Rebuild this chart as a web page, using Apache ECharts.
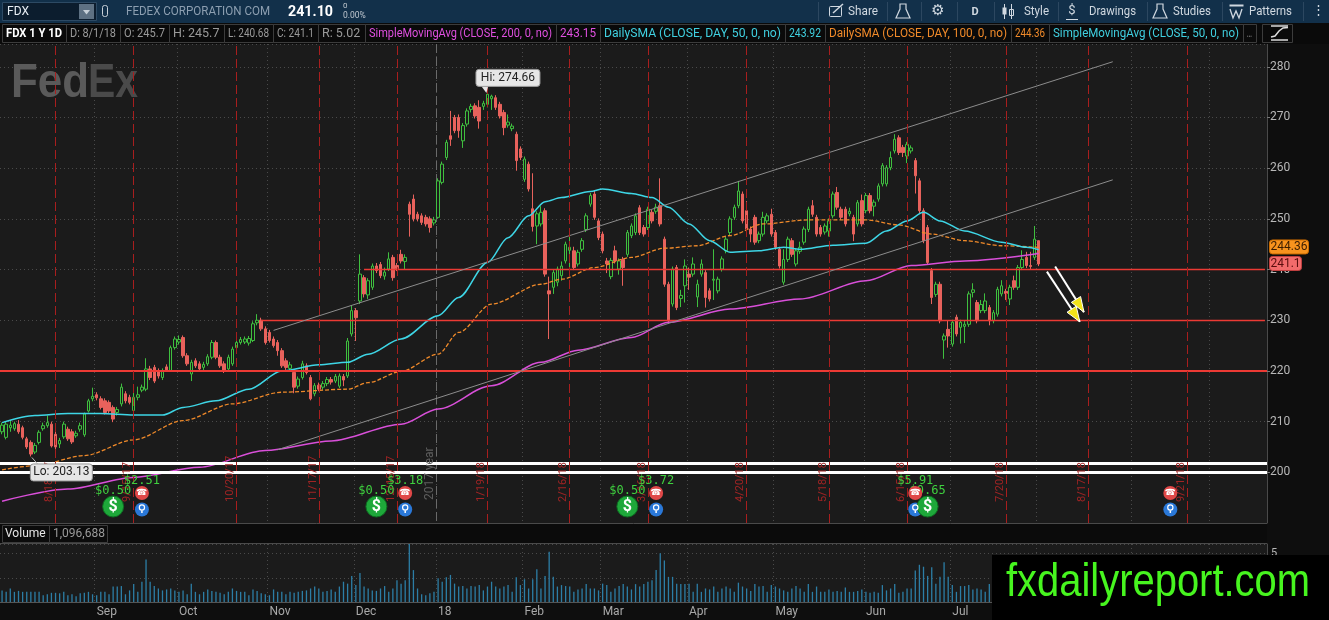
<!DOCTYPE html>
<html>
<head>
<meta charset="utf-8">
<title>FDX 1 Y 1D</title>
<script src="https://cdn.jsdelivr.net/npm/echarts@6/dist/echarts.min.js"></script>
<style>
html, body { margin: 0; padding: 0; background: #0e0e0e; }
#main { width: 1329px; height: 620px; }
</style>
</head>
<body>
<div id="main"></div>
<script>
// trading calendar
var holidays = ['2017-09-04', '2017-11-23', '2017-12-25', '2018-01-01', '2018-01-15',
    '2018-02-19', '2018-03-30', '2018-05-28', '2018-07-04', '2018-09-03'];
var dayCount = 308; // 253 bars + blank days up to the right edge
var monthNames = ['18', 'Feb', 'Mar', 'Apr', 'May', 'Jun', 'Jul', 'Aug', 'Sep', 'Oct', 'Nov', 'Dec'];

// daily candles [open, close, low, high], 8/1/17 .. 8/1/18
var ohlc = [
[208.0,209.3,207.5,209.8],[206.9,209.5,206.5,210.0],[208.8,209.3,208.0,210.3],[208.6,209.6,208.2,210.0],[209.5,208.0,207.6,210.3],
[208.8,206.9,206.5,209.2],[206.6,205.0,204.6,207.0],[205.9,203.6,203.13,206.3],[204.0,205.3,203.6,205.8],[205.9,207.9,205.5,208.3],
[208.6,209.2,208.2,209.8],[209.2,209.8,208.8,211.2],[209.5,205.2,204.9,210.0],[207.5,205.0,204.4,208.0],[205.6,206.3,204.8,206.8],
[207.0,209.5,206.6,210.0],[208.5,206.6,206.2,209.0],[208.0,206.0,205.6,208.5],[207.2,207.7,206.8,208.2],[208.5,209.2,208.0,209.8],
[207.4,211.5,207.0,211.8],[212.1,214.1,211.8,214.5],[214.5,215.0,214.0,216.7],[215.3,214.7,214.2,215.8],[214.5,212.8,212.4,215.0],
[214.1,211.8,211.4,214.6],[213.8,212.1,211.7,214.2],[212.8,210.5,209.9,213.2],[211.8,212.4,211.2,212.9],[213.5,216.8,213.0,217.5],
[215.5,214.1,213.6,216.0],[214.8,213.8,213.4,215.3],[212.2,214.8,211.5,216.5],[214.8,215.3,214.2,216.9],[216.2,216.8,215.8,217.3],
[216.4,220.4,216.0,222.5],[220.4,218.7,218.2,221.0],[220.7,218.0,217.6,221.2],[220.0,219.0,218.5,220.5],[218.7,220.0,218.2,220.5],
[220.8,220.2,219.8,221.3],[220.1,224.6,219.8,225.0],[224.6,226.3,224.2,226.8],[225.7,226.2,225.2,227.0],[226.6,223.0,222.6,227.0],
[223.0,221.4,221.0,223.5],[219.4,221.7,218.0,222.2],[222.0,221.0,220.6,222.5],[221.4,220.4,220.0,221.9],[220.7,221.3,220.2,221.8],
[221.4,222.8,221.0,223.3],[222.7,225.6,222.3,226.1],[225.6,222.7,222.3,226.0],[222.7,221.0,220.6,223.2],[221.4,220.0,219.6,221.9],
[220.4,222.7,220.0,223.2],[221.4,224.3,221.0,224.8],[224.6,225.6,224.2,226.1],[225.6,226.2,225.2,226.7],[225.7,226.3,225.3,226.8],
[225.5,226.4,225.0,226.9],[226.0,229.3,225.7,229.8],[229.5,230.0,229.0,231.2],[230.0,228.3,227.9,230.5],[228.3,225.6,225.2,228.8],
[227.6,226.0,225.6,228.1],[226.3,225.0,224.6,226.8],[225.6,224.0,223.0,226.1],[224.0,221.0,220.6,224.5],[222.0,220.7,220.2,222.5],
[220.5,221.2,220.0,221.8],[219.7,216.8,215.6,220.2],[217.0,218.4,216.5,218.9],[218.7,221.4,218.3,222.0],[221.0,219.7,219.3,221.5],
[218.7,214.5,214.2,219.2],[215.5,217.1,215.0,217.6],[217.2,216.4,216.0,217.7],[216.8,217.5,216.3,218.0],[217.5,218.3,217.0,218.8],
[218.3,217.8,217.3,218.8],[218.0,218.9,217.6,219.4],[217.0,219.0,216.6,219.5],[218.9,218.2,217.0,219.4],[219.0,225.9,218.6,226.5],
[227.3,231.9,226.8,233.0],[231.9,230.5,225.9,232.4],[233.8,239.1,233.2,243.0],[238.4,235.2,234.5,238.9],[235.0,237.8,234.2,238.3],
[236.5,240.7,236.0,241.2],[240.7,239.8,239.3,241.3],[241.0,238.8,238.3,241.5],[238.7,239.5,238.0,240.4],[240.1,242.1,239.7,243.4],
[242.4,238.4,237.8,242.9],[240.8,240.2,239.7,241.3],[243.0,241.7,241.2,243.9],[241.6,242.4,240.0,243.0],[252.9,250.9,246.5,253.4],
[253.9,250.0,249.5,254.8],[250.9,250.0,249.5,251.4],[250.6,249.3,248.8,251.1],[250.3,249.0,248.5,250.8],[250.0,248.3,247.3,250.5],
[249.2,249.8,248.7,250.4],[250.3,257.5,250.0,258.0],[257.2,260.8,256.8,261.3],[262.1,265.1,261.6,265.6],[266.4,265.7,264.4,271.3],
[270.0,267.4,266.9,270.5],[270.0,267.4,266.0,270.6],[265.4,268.4,264.0,268.9],[268.7,271.3,268.2,271.8],[271.6,272.2,271.0,272.7],
[272.3,270.3,269.8,272.8],[272.0,269.3,267.8,273.4],[272.2,272.8,271.5,273.3],[272.6,274.6,272.0,274.66],[273.7,274.2,271.5,274.5],
[273.9,272.0,271.5,274.4],[272.6,270.3,269.8,273.1],[271.0,268.0,266.5,271.5],[268.5,269.1,268.0,270.6],[267.8,268.3,267.3,268.8],
[266.7,261.5,259.5,267.2],[263.8,262.1,261.6,264.3],[257.8,261.8,257.3,262.3],[260.8,255.9,255.4,261.3],[252.0,248.5,247.5,259.0],
[248.6,251.0,245.0,251.5],[249.0,251.3,248.5,252.5],[251.6,239.1,238.6,252.1],[235.8,235.2,226.3,238.6],[236.5,239.4,235.2,240.0],
[237.5,240.1,236.7,240.6],[238.8,240.7,237.8,241.6],[241.7,245.0,241.2,245.5],[243.8,244.4,240.5,247.5],[243.7,240.4,239.9,244.5],
[241.1,243.4,240.6,243.9],[244.0,245.7,243.5,246.2],[247.9,250.6,247.4,251.1],[252.9,254.6,252.4,255.1],[254.9,250.3,249.8,255.5],
[249.6,246.3,245.8,250.1],[247.0,243.7,243.2,247.5],[241.7,241.1,239.3,242.3],[238.6,241.8,238.1,242.3],[243.7,241.7,241.2,244.7],
[240.1,241.7,239.0,242.2],[242.0,240.4,236.8,242.5],[243.0,247.3,242.5,247.8],[246.7,248.6,246.2,249.1],[247.3,250.6,246.8,251.1],
[252.2,247.3,246.8,252.7],[248.3,247.0,246.5,248.8],[248.3,251.9,247.8,252.4],[251.3,249.6,249.1,251.8],[251.5,252.3,251.0,253.0],
[252.6,249.0,248.5,258.0],[246.0,237.1,236.6,246.5],[237.1,229.9,229.3,237.6],[233.2,240.1,232.7,240.6],[240.4,232.5,232.0,240.9],
[234.3,234.9,232.6,236.0],[236.8,240.7,233.5,242.0],[239.1,238.5,236.0,240.4],[239.1,241.1,238.6,242.4],[234.6,237.1,232.6,238.0],
[239.1,241.1,238.6,242.0],[239.4,234.5,232.5,239.9],[235.8,234.2,233.7,236.3],[237.9,238.1,234.0,244.0],[235.8,238.1,235.3,238.6],
[240.1,242.1,239.6,242.6],[243.7,246.0,243.2,246.5],[247.3,250.0,246.8,250.5],[250.3,252.3,249.8,252.8],[252.6,255.5,252.1,257.5],
[254.9,249.6,249.1,255.4],[251.6,248.0,247.5,253.5],[248.0,247.0,245.4,248.5],[250.3,245.4,244.9,250.8],[245.7,247.0,245.2,247.5],
[247.0,250.3,246.5,251.4],[249.6,250.6,249.1,251.1],[250.9,247.0,246.5,252.0],[247.3,244.4,243.9,247.8],[244.0,240.7,240.2,244.5],
[237.5,242.0,237.0,244.0],[242.0,246.0,241.5,246.5],[245.7,243.0,242.5,246.2],[241.1,243.7,240.6,244.2],[243.6,244.4,243.1,245.5],
[245.4,248.0,244.9,248.5],[247.9,251.9,247.4,252.4],[252.6,250.9,250.4,253.7],[250.3,247.0,246.5,250.8],[248.3,247.0,246.5,248.8],
[247.4,248.6,246.9,249.1],[247.6,249.6,246.5,250.1],[250.6,254.9,250.1,255.4],[255.2,252.3,251.8,256.3],[251.9,250.3,249.8,252.4],
[251.9,249.0,248.5,252.4],[251.0,251.5,250.5,252.2],[250.3,247.0,245.6,250.8],[249.0,253.2,248.5,253.7],[253.6,249.0,248.5,254.8],
[251.6,254.6,251.1,255.1],[254.6,251.6,251.1,255.1],[252.5,253.3,250.5,253.8],[253.9,256.5,253.4,257.0],[256.9,260.5,256.4,261.0],
[256.9,260.1,256.4,260.6],[260.1,262.1,259.6,263.3],[263.4,265.7,262.9,266.7],[266.0,263.1,262.6,266.5],[264.1,263.1,262.2,264.6],
[262.4,264.7,261.0,265.2],[263.4,264.0,262.9,264.5],[261.5,258.5,255.0,262.0],[257.5,251.6,251.1,258.0],[251.6,245.7,245.2,252.1],
[248.3,241.4,240.9,248.8],[239.8,234.5,233.2,240.3],[235.1,237.1,234.6,237.6],[237.1,229.9,229.4,237.6],[226.1,226.9,222.4,227.4],
[228.2,226.9,224.6,230.0],[225.3,229.6,224.8,230.1],[230.6,227.3,226.8,231.1],[228.6,229.6,225.4,230.1],[228.8,229.2,225.5,230.0],
[229.2,235.2,228.7,235.7],[235.5,236.0,234.5,237.3],[233.5,229.9,229.4,234.0],[231.9,233.1,231.4,234.0],[231.9,233.8,231.4,235.3],
[232.5,229.9,229.0,233.0],[229.9,231.5,229.4,232.0],[231.2,236.1,230.7,236.6],[235.2,236.8,234.7,237.9],[235.7,235.3,234.0,236.2],
[234.2,236.5,233.0,237.0],[237.8,236.5,236.0,238.8],[236.5,240.4,236.0,240.9],[240.4,242.0,239.9,243.8],[242.4,240.8,240.3,243.5],
[240.8,240.6,240.1,243.5],[242.4,246.0,241.9,248.6],[245.7,241.1,240.68,245.7]
];

// volume, millions of shares
var volume = [
1.2,1.05,1.4,1.05,1.15,1.05,1.05,1.05,1.05,1.05,
0.7,0.8,0.95,0.95,0.9,1.05,0.7,0.8,0.6,0.9,
0.95,1.05,0.8,0.7,1.05,1.05,0.8,1.6,1.6,1.65,
0.8,1.2,1.85,1.05,2.1,4.4,2.1,1.65,1.4,1.2,
1.3,1.4,1.2,1.05,1.2,0.8,1.9,1.05,0.8,1.05,
1.3,1.15,1.05,0.95,0.8,1.05,1.4,1.15,1.05,1.05,
0.7,1.3,1.15,0.9,0.8,0.7,1.3,1.05,1.05,0.8,
1.05,0.95,1.05,1.15,1.2,1.4,1.6,1.4,1.05,1.15,
1.3,1.05,1.6,2.1,1.9,2.7,1.75,3.0,1.6,1.4,
1.2,1.15,1.4,1.65,1.05,1.4,2.25,1.9,2.25,6.0,
3.3,1.4,0.8,0.7,0.9,1.05,2.45,2.1,2.55,2.8,
1.9,1.6,1.65,1.4,1.65,1.6,1.75,1.2,1.6,2.1,
1.6,1.4,1.6,1.75,1.05,2.55,1.75,2.35,1.4,2.35,
3.4,1.4,2.7,5.2,2.6,1.6,1.75,1.65,1.6,1.05,
1.3,1.4,1.85,1.4,1.4,1.2,1.9,1.75,1.05,1.4,
1.65,1.85,1.6,1.3,1.85,1.6,1.85,2.1,2.25,3.3,
5.05,4.3,2.6,2.6,1.9,1.85,1.85,1.9,1.05,1.9,
1.05,1.4,1.3,1.6,1.05,1.4,1.6,1.4,1.05,2.0,
1.6,1.4,1.15,1.85,1.6,1.65,1.05,1.75,1.6,1.4,
1.2,1.05,1.4,1.65,1.4,1.05,1.85,1.05,1.6,1.05,
1.05,1.3,1.05,1.15,1.05,1.5,1.05,1.05,1.15,1.3,
1.05,0.95,1.05,0.95,1.75,1.2,1.4,1.85,0.95,1.05,
1.4,1.4,3.25,3.85,3.65,2.7,3.6,1.9,2.6,4.1,
2.6,1.75,1.05,1.65,1.65,1.75,1.3,1.4,1.3,1.05,
1.85,1.2,1.5,1.3,1.1,1.4,1.6,1.3,1.2,1.4,1.5,1.9,1.097
];

// moving averages: [bar index, value]
var sma50 = [[0,209.8],[8,211.2],[16,211.6],[24,211.6],[32,211.3],[39,211.3],[44,212.8],[52,214.1],[60,216.4],
    [68,220.0],[77,221.2],[84,221.7],[89,223.3],[97,226.3],[106,230.9],[111,234.5],[118,241.4],[123,246.3],
    [128,250.6],[132,253.4],[136,254.2],[143,255.4],[146,255.9],[153,255.0],[158,254.2],[162,252.3],[167,249.0],
    [172,245.7],[177,243.4],[184,243.7],[190,244.4],[194,244.0],[202,244.8],[210,245.2],[215,247.6],[220,249.6],
    [224,251.3],[228,249.6],[234,247.6],[243,245.4],[249,244.4],[252,243.92]];
var sma100 = [[0,200.5],[8,201.3],[20,203.3],[32,206.4],[44,210.2],[56,213.5],[68,215.8],[84,216.4],[89,217.7],
    [97,219.9],[106,223.3],[111,227.6],[119,233.2],[131,237.1],[136,238.1],[144,240.4],[153,242.4],[161,244.2],
    [169,244.7],[177,246.7],[185,249.0],[196,249.8],[210,249.8],[218,248.8],[226,247.0],[234,245.7],[243,244.7],
    [252,244.36]];
var sma200 = [[0,194.3],[16,196.7],[32,199.0],[48,201.0],[64,204.3],[80,206.2],[97,209.5],[106,212.5],[119,217.1],
    [131,221.7],[140,224.1],[153,226.6],[162,229.6],[177,232.2],[194,234.2],[210,237.8],[221,240.8],[234,241.7],
    [252,243.15]];

// drawings: option expirations, levels, channel, arrows
var expiries = [[13,'8/18/17'],[32,'9/15/17'],[57,'10/20/17'],[77,'11/17/17'],[96,'12/15/17'],[118,'1/19/18'],
    [138,'2/16/18'],[157,'3/16/18'],[181,'4/20/18'],[201,'5/18/18'],[220,'6/15/18'],[244,'7/20/18'],
    [264,'8/17/18'],[288,'9/21/18']];
var levels = [[63, 230], [88, 240]]; // [from bar, price]
var channel = [[66, 228.0, 270, 281.0], [67, 204.45, 270, 257.7]];
var arrows = [[256, 240.6, 263, 231.6], [254, 239.6, 262, 229.7]];
var events = [[27,'div','$0.50'],[34,'earn','$2.51'],[91,'div','$0.50'],[98,'earn','$3.18'],
    [152,'div','$0.50'],[159,'earn','$3.72'],[222,'earn','$5.91'],[225,'div','$0.65'],[284,'earn','']];

function buildDates() {
    var out = [];
    var d = new Date(Date.UTC(2017, 7, 1));
    while (out.length < dayCount) {
        var wd = d.getUTCDay();
        var s = d.toISOString().slice(0, 10);
        if (wd !== 0 && wd !== 6 && holidays.indexOf(s) < 0) out.push(s);
        d.setUTCDate(d.getUTCDate() + 1);
    }
    return out;
}
var dates = buildDates();
var monthStart = dates.map(function (s, i) {
    return i > 0 && s.slice(5, 7) !== dates[i - 1].slice(5, 7);
});
function isStart(index) { return !!monthStart[index]; }
function pts(list) { return list.map(function (p) { return [dates[p[0]], p[1]]; }); }

var RED = '#e8625c', GREEN = '#3fbf3f', LEVEL = '#ec3a34';
var last = dayCount - 1;

var marks = [];
marks.push({ yAxis: 220, lineStyle: { color: LEVEL, width: 2, type: 'solid' } });
marks.push({ yAxis: 201.7, lineStyle: { color: '#ffffff', width: 3, type: 'solid' } });
marks.push({ yAxis: 200.1, lineStyle: { color: '#ffffff', width: 3, type: 'solid' } });
levels.forEach(function (l) {
    marks.push([{ coord: [dates[l[0]], l[1]], lineStyle: { color: LEVEL, width: 1.4, type: 'solid', opacity: 1 } },
        { coord: [dates[last], l[1]] }]);
});
channel.forEach(function (c) {
    marks.push([{ coord: [dates[c[0]], c[1]], lineStyle: { color: '#8c8c8c', width: 1, type: 'solid' } },
        { coord: [dates[c[2]], c[3]] }]);
});
expiries.forEach(function (e) {
    marks.push({ xAxis: dates[e[0]], lineStyle: { color: '#a81e1e', width: 1, type: [9, 4] } });
});
arrows.forEach(function (a) {
    marks.push([{ coord: [dates[a[0]], a[1]], lineStyle: { color: '#ffffff', width: 2, type: 'solid' } },
        { coord: [dates[a[2]], a[3]] }]);
});

var chart = echarts.init(document.getElementById('main'));
var axisCommon = {
    type: 'category', data: dates, boundaryGap: true,
    axisLine: { show: false }, axisTick: { show: false }
};
var option = {
    animation: false,
    backgroundColor: '#0e0e0e',
    textStyle: { fontFamily: 'Roboto, "Open Sans", sans-serif' },
    grid: [
        { left: 0, right: 62, top: 44, height: 479, show: true, backgroundColor: '#1b1b1b', borderWidth: 0, outerBoundsMode: 'none' },
        { left: 0, right: 62, top: 544, height: 58, show: true, backgroundColor: '#1b1b1b', borderWidth: 0, outerBoundsMode: 'none' }
    ],
    xAxis: [
        Object.assign({}, axisCommon, {
            gridIndex: 0,
            axisLabel: { show: false },
            splitLine: { show: true, interval: isStart, lineStyle: { color: '#4a4a4a', type: [1, 3] } }
        }),
        Object.assign({}, axisCommon, {
            gridIndex: 1,
            axisLine: { show: true, lineStyle: { color: '#555555' } },
            axisLabel: {
                interval: isStart, align: 'left', color: '#a8a8a8', fontSize: 12, margin: 4,
                formatter: function (v) { return monthNames[parseInt(v.slice(5, 7), 10) - 1]; }
            },
            splitLine: { show: true, interval: isStart, lineStyle: { color: '#4a4a4a', type: [1, 3] } }
        })
    ],
    yAxis: [
        {
            gridIndex: 0, type: 'value', position: 'right', min: 190, max: 284.5, interval: 10,
            axisLine: { show: true, lineStyle: { color: '#4a4a4a' } },
            axisTick: { show: true, length: 3, lineStyle: { color: '#777777' } },
            axisLabel: { color: '#b8b8b8', fontSize: 12, margin: 3, showMinLabel: false, showMaxLabel: false },
            splitLine: { show: true, lineStyle: { color: '#4a4a4a', type: [1, 3] } }
        },
        {
            gridIndex: 1, type: 'value', position: 'right', min: 0, max: 6, interval: 2.5,
            axisLine: { show: true, lineStyle: { color: '#4a4a4a' } },
            axisTick: { show: false },
            axisLabel: { color: '#b8b8b8', fontSize: 11, margin: 4, showMinLabel: false, showMaxLabel: false },
            splitLine: { show: true, lineStyle: { color: '#4a4a4a', type: [1, 3] } }
        }
    ],
    series: [
        {
            name: 'FDX', type: 'candlestick', xAxisIndex: 0, yAxisIndex: 0, data: ohlc, barWidth: 3,
            itemStyle: { color: '#1b1b1b', color0: RED, borderColor: GREEN, borderColor0: RED, borderWidth: 1 },
            markLine: { silent: true, symbol: ['none', 'none'], label: { show: false }, animation: false,
                emphasis: { disabled: true }, data: marks }
        },
        {
            name: 'SimpleMovingAvg 200', type: 'line', data: pts(sma200), showSymbol: false, smooth: 0.3,
            smoothMonotone: 'x', lineStyle: { color: '#d94fd9', width: 1.5 }, silent: true
        },
        {
            name: 'DailySMA 100', type: 'line', data: pts(sma100), showSymbol: false, smooth: 0.3,
            smoothMonotone: 'x', lineStyle: { color: '#f08a2a', width: 1.3, type: [4, 2] }, silent: true
        },
        {
            name: 'DailySMA 50', type: 'line', data: pts(sma50), showSymbol: false, smooth: 0.3,
            smoothMonotone: 'x', lineStyle: { color: '#3ed6e6', width: 1.5 }, silent: true
        },
        {
            name: 'Volume', type: 'bar', xAxisIndex: 1, yAxisIndex: 1, data: volume, barWidth: 1.3,
            itemStyle: { color: '#2c7ea6' }, silent: true
        }
    ]
};
chart.setOption(option);

// overlays placed through the chart's own scales
var measureCtx = document.createElement('canvas').getContext('2d');
function xy(i, v) { return chart.convertToPixel({ gridIndex: 0 }, [i, v]); }
function txt(x, y, s, fill, font, align, extra) {
    var el = {
        type: 'text', x: x, y: y, z: 100,
        style: { text: s, fill: fill, font: font, align: align || 'left', textAlign: align || 'left',
            verticalAlign: 'middle', textVerticalAlign: 'middle' }
    };
    if (extra) Object.assign(el, extra);
    return el;
}
// left-aligned text squeezed to a given width (narrow UI font look)
function fitTxt(x, y, s, fill, font, width, extra) {
    measureCtx.font = font;
    var w = measureCtx.measureText(s).width;
    var e = Object.assign({ scaleX: Math.min(1, width / w) }, extra || {});
    return txt(x, y, s, fill, font, 'left', e);
}
function rect(x, y, w, h, fill, stroke, r, z) {
    return { type: 'rect', z: z || 90, shape: { x: x, y: y, width: w, height: h, r: r || 0 },
        style: { fill: fill || 'none', stroke: stroke || 'none', lineWidth: 1 } };
}
function line(x1, y1, x2, y2, stroke, w, dash, z) {
    return { type: 'line', z: z || 90, shape: { x1: x1, y1: y1, x2: x2, y2: y2 },
        style: { stroke: stroke, lineWidth: w || 1, lineDash: dash || null } };
}

var g = [];
var F = 'Roboto, "Open Sans", sans-serif';

// toolbar
g.push(rect(0, 0, 1329, 23, '#12304a', null, 0, 80));
g.push(rect(2.5, 2.5, 94, 18, '#0c1d2e', '#2d4a64'));
g.push(txt(7, 12, 'FDX', '#e8eef4', '12px ' + F));
g.push(rect(79, 4, 15, 15, '#5e7183'));
g.push({ type: 'polygon', z: 95, shape: { points: [[83, 10], [90, 10], [86.5, 14.5]] }, style: { fill: '#c7d0d8' } });
g.push(rect(102.5, 5.5, 5, 11, null, '#c8d0d8', 2));
g.push(fitTxt(126, 12, 'FEDEX CORPORATION COM', '#8d9fb1', '13px ' + F, 144));
g.push(fitTxt(288, 12, '241.10', '#ffffff', 'bold 15px ' + F, 45));
g.push(txt(343, 6, '0', '#c0c8d0', '8px ' + F));
g.push(txt(343, 16, '0.00%', '#c0c8d0', '8.5px ' + F));
[818, 887, 921, 957, 994, 1058, 1147, 1222, 1303].forEach(function (x) {
    g.push(line(x + 0.5, 2, x + 0.5, 21, '#2c4760'));
});
g.push(rect(829.5, 6.5, 12, 10, null, '#d0d8e0', 1));
g.push(line(833, 13, 843, 4, '#d0d8e0', 1.5));
g.push(fitTxt(848, 12, 'Share', '#d0d8e0', '13px ' + F, 30));
function flask(x) {
    return { type: 'polygon', z: 95, shape: { points: [[x - 3, 4], [x + 3, 4], [x + 3, 9], [x + 7, 18], [x - 7, 18], [x - 3, 9]] },
        style: { fill: 'none', stroke: '#d0d8e0', lineWidth: 1.2 } };
}
g.push(flask(903));
g.push(txt(938, 11, '\u2699', '#d0d8e0', '15px "DejaVu Sans"', 'center'));
g.push(txt(975, 12, 'D', '#d0d8e0', 'bold 11px ' + F, 'center'));
g.push(line(1004.5, 4, 1004.5, 19, '#d0d8e0'));
g.push(rect(1002.5, 7.5, 4, 7, '#d0d8e0'));
g.push(line(1011.5, 4, 1011.5, 19, '#d0d8e0'));
g.push(rect(1009.5, 9.5, 4, 6, null, '#d0d8e0'));
g.push(fitTxt(1024, 12, 'Style', '#d0d8e0', '13px ' + F, 25));
g.push(txt(1072, 11, '$', '#d0d8e0', '13px ' + F, 'center'));
g.push(line(1066, 19.5, 1078, 19.5, '#d0d8e0'));
g.push(fitTxt(1089, 12, 'Drawings', '#d0d8e0', '13px ' + F, 47));
g.push(flask(1160));
g.push(fitTxt(1173, 12, 'Studies', '#d0d8e0', '13px ' + F, 38));
g.push(rect(1229.5, 4.5, 14, 2, '#d0d8e0'));
g.push({ type: 'polyline', z: 95, shape: { points: [[1230, 9], [1233, 18], [1236, 11], [1239, 18], [1242, 9]] },
    style: { stroke: '#d0d8e0', lineWidth: 1.3, fill: 'none' } });
g.push(fitTxt(1249, 12, 'Patterns', '#d0d8e0', '13px ' + F, 43));
g.push(txt(1318, 11, '\u22ee', '#d0d8e0', '13px ' + F, 'center'));

// study legend row
g.push(rect(0, 23, 1329, 21, '#0a0a0a', null, 0, 80));
var legendBoxes = [
    [2, 66, 'FDX 1 Y 1D', '#ffffff', 'bold '],
    [66, 120, 'D: 8/1/18', '#9a9a9a', ''],
    [120, 169, 'O: 245.7', '#9a9a9a', ''],
    [169, 224, 'H: 245.7', '#9a9a9a', ''],
    [224, 273, 'L: 240.68', '#9a9a9a', ''],
    [273, 318, 'C: 241.1', '#9a9a9a', ''],
    [318, 365, 'R: 5.02', '#9a9a9a', ''],
    [365, 556, 'SimpleMovingAvg (CLOSE, 200, 0, no)', '#e050e0', ''],
    [556, 600, '243.15', '#e050e0', ''],
    [600, 785, 'DailySMA (CLOSE, DAY, 50, 0, no)', '#40d0e0', ''],
    [785, 825, '243.92', '#40d0e0', ''],
    [825, 1011, 'DailySMA (CLOSE, DAY, 100, 0, no)', '#f08a2a', ''],
    [1011, 1049, '244.36', '#f08a2a', ''],
    [1049, 1243, 'SimpleMovingAvg (CLOSE, 50, 0, no)', '#40d0e0', ''],
    [1243, 1256, '...', '#9a9a9a', '']
];
legendBoxes.forEach(function (b) {
    g.push(rect(b[0] + 0.5, 24.5, b[1] - b[0], 18, null, '#3c3c3c'));
    g.push(fitTxt(b[0] + 4, 34, b[2], b[3], b[4] + '12.5px ' + F, b[1] - b[0] - 8));
});
g.push(rect(1262.5, 24.5, 30, 18, null, '#3c3c3c'));
g.push(line(1271, 26, 1288, 26, '#dddddd', 1.5));
g.push(line(1271, 40, 1288, 40, '#dddddd', 1.5));
g.push({ type: 'polyline', z: 95, shape: { points: [[1271, 37], [1275, 36], [1279, 31], [1283, 28], [1288, 27.5]] },
    style: { stroke: '#dddddd', lineWidth: 1.5, fill: 'none' } });

// FedEx watermark logo
var logoFont = 'bold 48px "Liberation Sans", Arial, sans-serif';
g.push(fitTxt(11, 84, 'Fed', '#5a5a5a', logoFont, 78, { z: 1 }));
g.push(fitTxt(88, 84, 'Ex', '#4a4a4a', logoFont, 50, { z: 1 }));

// year separator
var bw = xy(1, 250)[0] - xy(0, 250)[0];
var yearX = Math.round(xy(106, 250)[0] - bw / 2) + 0.5;
g.push(line(yearX, 44, yearX, 523, '#6a6a6a', 1, [9, 4], 1));
g.push(txt(yearX - 7, 500, '2017 year', '#5f5f5f', '12px ' + F, 'left', { rotation: Math.PI / 2, z: 10 }));

// expiration labels
expiries.forEach(function (e) {
    var x = xy(e[0], 250)[0];
    g.push(txt(x - 6, 502, e[1], '#a02424', '11px ' + F, 'left', { rotation: Math.PI / 2, z: 10 }));
});

// earnings / dividend markers
events.forEach(function (ev) {
    var x = xy(ev[0], 250)[0];
    if (ev[1] === 'div') {
        if (ev[2]) g.push(txt(x, 491, ev[2], '#3fd03f', '12px "DejaVu Sans Mono", monospace', 'center', { z: 15 }));
        g.push({ type: 'circle', z: 20, shape: { cx: x, cy: 506.5, r: 10.5 }, style: { fill: '#1ea83a', stroke: '#0e6e22', lineWidth: 1 } });
        g.push(txt(x, 507, '$', '#ffffff', 'bold 16px ' + F, 'center', { z: 21 }));
    } else {
        if (ev[2]) g.push(txt(x, 481, ev[2], '#3fd03f', '12px "DejaVu Sans Mono", monospace', 'center', { z: 15 }));
        g.push({ type: 'circle', z: 20, shape: { cx: x, cy: 493, r: 7 }, style: { fill: '#e04848' } });
        g.push(txt(x, 493, '\u260e', '#ffffff', '9px "DejaVu Sans"', 'center', { z: 21 }));
        g.push({ type: 'circle', z: 20, shape: { cx: x, cy: 509.5, r: 7 }, style: { fill: '#2a78d8' } });
        g.push({ type: 'circle', z: 21, shape: { cx: x, cy: 507.5, r: 2.6 }, style: { fill: 'none', stroke: '#ffffff', lineWidth: 1.2 } });
        g.push(line(x, 510.5, x, 513, '#ffffff', 1.5, null, 21));
    }
});

// high / low callouts
var hi = xy(118, 274.66);
g.push({ type: 'polygon', z: 100, shape: { points: [[hi[0] - 7, hi[1] - 9], [hi[0] + 1, hi[1] - 9], [hi[0] - 1, hi[1] - 1]] }, style: { fill: '#e6e6e6' } });
g.push(rect(hi[0] - 11.5, hi[1] - 24.5, 64, 17, '#e6e6e6', '#9a9a9a', 3, 100));
g.push(txt(hi[0] + 20.5, hi[1] - 16, 'Hi: 274.66', '#222222', '12px ' + F, 'center', { z: 101 }));
var lo = xy(7, 203.13);
g.push(line(lo[0] + 1, lo[1] + 1, lo[0] + 8, lo[1] + 9, '#bbbbbb', 1, null, 100));
g.push(rect(lo[0] - 0.5, lo[1] + 7.5, 62, 17, '#e6e6e6', '#9a9a9a', 3, 100));
g.push(txt(lo[0] + 30.5, lo[1] + 16, 'Lo: 203.13', '#222222', '12px ' + F, 'center', { z: 101 }));

// arrowheads at the end of the drawn arrows
arrows.forEach(function (a) {
    var p0 = xy(a[0], a[1]), p1 = xy(a[2], a[3]);
    var dx = p1[0] - p0[0], dy = p1[1] - p0[1], L = Math.sqrt(dx * dx + dy * dy);
    var ux = dx / L, uy = dy / L, nx = -uy, ny = ux;
    var bx = p1[0] - ux * 15, by = p1[1] - uy * 15;
    g.push({ type: 'polygon', z: 100, shape: { points: [p1, [bx + nx * 5.5, by + ny * 5.5], [bx - nx * 5.5, by - ny * 5.5]] },
        style: { fill: '#f2e21a', stroke: '#ffffff', lineWidth: 1 } });
});

// price tags on the right axis
var tagO = xy(0, 244.36)[1], tagR = xy(0, 241.1)[1];
g.push(rect(1269.5, tagO - 7.5, 39, 14, '#f7931e', '#c86a00', 3, 100));
g.push(txt(1289, tagO, '244.36', '#3b1d00', '12px ' + F, 'center', { z: 101 }));
g.push(rect(1269.5, tagR - 7.5, 32, 14, '#f26b6b', '#c04040', 3, 100));
g.push(txt(1285.5, tagR, '241.1', '#5a0d0d', '12px ' + F, 'center', { z: 101 }));

// volume pane header
g.push(rect(0, 523, 1267, 21, '#0b0b0b', null, 0, 80));
g.push(line(0, 523.5, 1267, 523.5, '#4a4a4a'));
g.push(line(0, 543.5, 1267, 543.5, '#4a4a4a'));
g.push(rect(2.5, 525.5, 47, 17, null, '#3c3c3c'));
g.push(txt(5, 534, 'Volume', '#e6e6e6', '12px ' + F));
g.push(rect(49.5, 525.5, 58, 17, null, '#3c3c3c'));
g.push(txt(53, 534, '1,096,688', '#9a9a9a', '12px ' + F));

// site watermark
g.push(rect(992, 555, 337, 65, '#000000', null, 0, 110));
g.push(fitTxt(1006, 583, 'fxdailyreport.com', '#47f51f', '46px "Liberation Sans", Arial, sans-serif', 304, { z: 111 }));

chart.setOption({ graphic: { elements: g } });
</script>
</body>
</html>
